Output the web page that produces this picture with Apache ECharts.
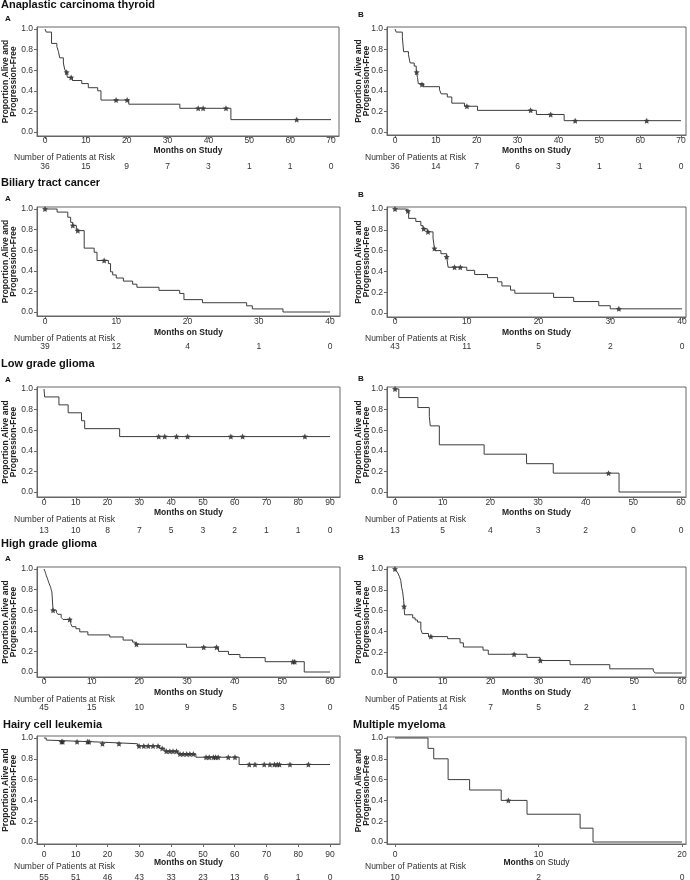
<!DOCTYPE html>
<html><head><meta charset="utf-8">
<script src="https://cdn.jsdelivr.net/npm/echarts@6/dist/echarts.min.js"></script>
<style>html,body{margin:0;padding:0;background:#fff}#c{width:690px;height:880px}</style>
</head><body><div id="c"></div>
<script>
// ---------------- DATA ----------------
const yTicks = [0, 0.2, 0.4, 0.6, 0.8, 1.0];
const xTicks70 = [0, 10, 20, 30, 40, 50, 60, 70];
const xTicks40 = [0, 10, 20, 30, 40];
const xTicks90 = [0, 10, 20, 30, 40, 50, 60, 70, 80, 90];
const xTicks60 = [0, 10, 20, 30, 40, 50, 60];
const xTicks20 = [0, 10, 20];

// Anaplastic carcinoma thyroid
const thyroidA_km = [[0,1],[0.3,0.97],[1.6,0.86],[2.9,0.83],[3.3,0.78],[3.6,0.72],[4.5,0.67],[4.8,0.61],[5.2,0.58],[5.5,0.53],[6.7,0.50],[9.0,0.47],[10.6,0.43],[12.9,0.40],[13.7,0.31],[20.5,0.27],[33.0,0.23],[45.5,0.12],[70,0.12]];
const thyroidA_censor = [[5.3,0.58],[6.4,0.53],[17.4,0.31],[20.1,0.31],[37.5,0.23],[38.7,0.23],[44.3,0.23],[61.6,0.12]];
const thyroidA_risk = [36, 15, 9, 7, 3, 1, 1, 0];
const thyroidB_km = [[0,1],[0.3,0.97],[1.8,0.92],[2.1,0.78],[3.3,0.75],[3.7,0.67],[4.7,0.64],[5.2,0.58],[5.5,0.53],[5.7,0.47],[7.0,0.44],[10.9,0.41],[11.3,0.37],[12.8,0.34],[13.9,0.28],[17.0,0.25],[20.2,0.21],[34.6,0.17],[41.4,0.11],[70,0.11]];
const thyroidB_censor = [[5.3,0.58],[6.6,0.46],[17.6,0.25],[33.2,0.21],[38.1,0.17],[44.1,0.11],[61.6,0.11]];
const thyroidB_risk = [36, 14, 7, 6, 3, 1, 1, 0];

// Biliary tract cancer
const biliaryA_km = [[0,1],[1.7,0.97],[3.2,0.92],[3.6,0.87],[3.9,0.84],[4.4,0.79],[5.5,0.62],[6.9,0.58],[7.3,0.50],[8.9,0.47],[9.2,0.39],[9.5,0.36],[10.0,0.33],[11.0,0.30],[12.3,0.27],[12.9,0.24],[16.0,0.21],[18.9,0.18],[19.5,0.12],[22.1,0.09],[28.3,0.06],[29.1,0.03],[33.4,0.0],[40,0.0]];
const biliaryA_censor = [[0,1],[3.9,0.84],[4.6,0.79],[8.3,0.50]];
const biliaryA_risk = [39, 12, 4, 1, 0];
const biliaryB_km = [[0,1],[1.6,0.98],[1.9,0.91],[2.9,0.88],[3.6,0.84],[3.9,0.81],[4.5,0.78],[5.3,0.72],[5.5,0.62],[5.6,0.60],[6.4,0.57],[7.2,0.54],[7.4,0.44],[10.0,0.41],[11.1,0.37],[12.9,0.34],[14.3,0.30],[14.9,0.26],[16.1,0.22],[16.7,0.19],[22.1,0.15],[24.9,0.11],[28.4,0.07],[30.0,0.04],[40,0.04]];
const biliaryB_censor = [[0,1],[1.8,0.98],[4.0,0.81],[4.6,0.78],[5.5,0.62],[7.2,0.54],[8.3,0.44],[9.1,0.44],[31.2,0.04]];
const biliaryB_risk = [43, 11, 5, 2, 0];

// Low grade glioma
const lowA_km = [[0,1],[0.2,0.923],[4.7,0.846],[7.6,0.769],[11.8,0.692],[12.8,0.615],[23.8,0.538],[90,0.538]];
const lowA_censor = [[36.1,0.538],[38.0,0.538],[41.7,0.538],[45.2,0.538],[58.8,0.538],[62.5,0.538],[82.1,0.538]];
const lowA_risk = [13, 10, 8, 7, 5, 3, 2, 1, 1, 0];
const lowB_km = [[0,1],[0.8,0.917],[4.8,0.82],[7.2,0.733],[7.4,0.642],[9.3,0.458],[18.7,0.367],[27.6,0.275],[33.2,0.183],[47,0],[60,0]];
const lowB_censor = [[0,1],[44.8,0.183]];
const lowB_risk = [13, 5, 4, 3, 2, 0, 0];

// High grade glioma
const highA_km = [[0,1],[0.2,0.978],[0.35,0.956],[0.5,0.933],[0.7,0.911],[0.85,0.889],[1.0,0.867],[1.2,0.844],[1.4,0.822],[1.5,0.80],[1.65,0.778],[1.9,0.60],[2.6,0.58],[2.9,0.56],[3.6,0.53],[4.0,0.51],[5.6,0.47],[5.9,0.44],[6.7,0.42],[7.5,0.39],[9.2,0.36],[13.8,0.34],[16.6,0.31],[18.6,0.29],[19.2,0.27],[29.9,0.24],[36.6,0.20],[38.7,0.17],[41.1,0.14],[46.4,0.10],[54.6,0],[60,0]];
const highA_censor = [[1.9,0.60],[5.4,0.51],[19.4,0.27],[33.5,0.24],[36.2,0.24],[52.2,0.10],[52.6,0.10]];
const highA_risk = [45, 15, 10, 9, 5, 3, 0];
const highB_km = [[0,1],[0.3,0.98],[0.6,0.96],[0.9,0.93],[1.2,0.89],[1.4,0.82],[1.6,0.78],[1.8,0.70],[1.9,0.64],[2.0,0.56],[3.7,0.53],[4.2,0.51],[4.7,0.49],[5.4,0.42],[5.7,0.38],[7.0,0.35],[11.0,0.33],[13.6,0.29],[14.3,0.25],[18.4,0.22],[19.5,0.18],[27.6,0.15],[30.3,0.12],[36.6,0.08],[44.9,0.04],[54.0,0.02],[54.4,0],[60,0]];
const highB_censor = [[0,1],[1.9,0.64],[7.5,0.35],[24.9,0.18],[30.4,0.12]];
const highB_risk = [45, 14, 7, 5, 2, 1, 0];

// Hairy cell leukemia
const hairy_km = [[0,1],[0.7,0.98],[1.3,0.964],[15.1,0.945],[29.4,0.923],[36.4,0.90],[38.0,0.872],[42.2,0.845],[47.8,0.815],[61.4,0.745],[90,0.745]];
const hairy_censor = [[5.5,0.964],[5.9,0.964],[10.4,0.964],[13.7,0.964],[14.2,0.964],[18.4,0.945],[23.6,0.945],[29.9,0.923],[31.4,0.923],[32.8,0.923],[34.3,0.923],[35.9,0.923],[37.2,0.90],[38.5,0.872],[39.6,0.872],[40.6,0.872],[41.7,0.872],[42.8,0.845],[43.8,0.845],[44.9,0.845],[45.9,0.845],[47.0,0.845],[51.0,0.815],[52.0,0.815],[53.3,0.815],[54.0,0.815],[54.8,0.815],[58.0,0.815],[60.1,0.815],[64.6,0.745],[66.4,0.745],[69.3,0.745],[71.1,0.745],[72.5,0.745],[73.4,0.745],[74.1,0.745],[77.4,0.745],[83.2,0.745]];
const hairy_risk = [55, 51, 46, 43, 33, 23, 13, 6, 1, 0];

// Multiple myeloma
const myeloma_km = [[0,1],[2.3,0.9],[2.7,0.8],[3.7,0.6],[5.2,0.5],[7.4,0.4],[9.2,0.267],[12.9,0.133],[13.8,0],[20,0]];
const myeloma_censor = [[7.9,0.4]];
const myeloma_risk = [10, 2, 0];

// ---------------- LAYOUT ----------------
const FONT = 'Liberation Sans, Arial, Helvetica, sans-serif';
const rows = [
  {lab:140.5, months:150.5, head:158, nums:166},
  {lab:321, months:332, head:338.7, nums:346.7},
  {lab:502.5, months:512, head:520.3, nums:530.3},
  {lab:681.7, months:692, head:700, nums:707.5},
  {lab:854.2, months:862.3, head:867.5, nums:877}
];
const panels = [
  {km:thyroidA_km, cens:thyroidA_censor, risk:thyroidA_risk, ticks:xTicks70, box:[37,27,339,136], x0:45, xE:331, y1:29, y0:132, row:0, col:0},
  {km:thyroidB_km, cens:thyroidB_censor, risk:thyroidB_risk, ticks:xTicks70, box:[387,27,686,135], x0:395, xE:681, y1:29, y0:132, row:0, col:1},
  {km:biliaryA_km, cens:biliaryA_censor, risk:biliaryA_risk, ticks:xTicks40, box:[37,207,340,316], x0:45, xE:330, y1:209, y0:312, row:1, col:0},
  {km:biliaryB_km, cens:biliaryB_censor, risk:biliaryB_risk, ticks:xTicks40, box:[387,207,686,317], x0:395, xE:682, y1:209, y0:313, row:1, col:1},
  {km:lowA_km, cens:lowA_censor, risk:lowA_risk, ticks:xTicks90, box:[37,387,340,497], x0:44, xE:330, y1:389, y0:492, row:2, col:0},
  {km:lowB_km, cens:lowB_censor, risk:lowB_risk, ticks:xTicks60, box:[387,387,686,497], x0:395, xE:681, y1:389, y0:492, row:2, col:1},
  {km:highA_km, cens:highA_censor, risk:highA_risk, ticks:xTicks60, box:[37,567,340,677], x0:44, xE:330, y1:569, y0:672, row:3, col:0},
  {km:highB_km, cens:highB_censor, risk:highB_risk, ticks:xTicks60, box:[387,567,686,677], x0:395, xE:682, y1:569, y0:673, row:3, col:1},
  {km:hairy_km, cens:hairy_censor, risk:hairy_risk, ticks:xTicks90, box:[37,736,340,844], x0:44, xE:330, y1:738, y0:842, row:4, col:0},
  {km:myeloma_km, cens:myeloma_censor, risk:myeloma_risk, ticks:xTicks20, box:[387,737,686,844], x0:395, xE:682, y1:738, y0:842, row:4, col:1, richName:true}
];
const texts = [
  {t:'Anaplastic carcinoma thyroid', x:1, y:5, s:11},
  {t:'A', x:5, y:19, s:8}, {t:'B', x:358, y:15, s:8},
  {t:'Biliary tract cancer', x:1, y:183, s:11},
  {t:'A', x:5, y:198.5, s:8}, {t:'B', x:358, y:195, s:8},
  {t:'Low grade glioma', x:1, y:364, s:11},
  {t:'A', x:5, y:380, s:8}, {t:'B', x:358, y:379, s:8},
  {t:'High grade glioma', x:1, y:544, s:11},
  {t:'A', x:5, y:559, s:8}, {t:'B', x:358, y:558, s:8},
  {t:'Hairy cell leukemia', x:3, y:725, s:11},
  {t:'Multiple myeloma', x:353, y:725, s:11}
];

const STAR = 'path://M0,-10 L2.9,-4 9.5,-3.1 4.7,1.5 5.9,8.1 0,5 -5.9,8.1 -4.7,1.5 -9.5,-3.1 -2.9,-4 Z';
const AX = '#666', TXT = '#333', LINE = '#3c3c3c';
const FS = 8.5;

const grid = [], xAxis = [], yAxis = [], series = [], graphic = [];
panels.forEach((p, i) => {
  const [L, T, R, B] = p.box;
  const xMaxTick = p.ticks[p.ticks.length - 1];
  const step = p.ticks[1] - p.ticks[0];
  const ppm = (p.xE - p.x0) / xMaxTick;
  const xmin = -(p.x0 - L) / ppm, xmax = xMaxTick + (R - p.xE) / ppm;
  const ppu = p.y0 - p.y1;
  const ymax = 1 + (p.y1 - T) / ppu, ymin = -(B - p.y0) / ppu;
  const r = rows[p.row];
  const h = FS / 2;
  grid.push({left:L, top:T, width:R - L, height:B - T, show:true, borderColor:AX, borderWidth:1, containLabel:false, outerBoundsMode:'none'});
  const nameCfg = p.richName
    ? {name:'{b|Months} on Study', nameTextStyle:{fontSize:FS, color:'#222', fontFamily:FONT, rich:{b:{fontWeight:'bold', fontSize:FS, color:'#222', fontFamily:FONT}}}}
    : {name:'Months on Study', nameTextStyle:{fontSize:FS, fontWeight:'bold', color:'#222', fontFamily:FONT}};
  xAxis.push(Object.assign({
    gridIndex:i, type:'value', min:xmin, max:xmax, position:'bottom',
    axisLine:{show:true, onZero:false, lineStyle:{color:AX, width:1}},
    axisTick:{show:true, length:3, customValues:p.ticks, lineStyle:{color:AX}},
    axisLabel:{customValues:p.ticks, fontSize:FS, color:TXT, fontFamily:FONT, margin:r.lab - B - h, formatter:v => String(v)},
    splitLine:{show:false},
    nameLocation:'middle', nameGap:r.months - B - h, nameMoveOverlap:false
  }, nameCfg));
  // risk table axis
  xAxis.push({
    gridIndex:i, type:'value', min:xmin, max:xmax, position:'bottom', offset:r.nums - B - h,
    axisLine:{show:false}, axisTick:{show:false}, splitLine:{show:false},
    axisLabel:{customValues:p.ticks, fontSize:FS, color:TXT, fontFamily:FONT, margin:0,
      formatter:(v) => String(p.risk[Math.round(v / step)])}
  });
  yAxis.push({
    gridIndex:i, type:'value', min:ymin, max:ymax,
    axisLine:{show:true, onZero:false, lineStyle:{color:AX, width:1}},
    axisTick:{show:true, length:3, customValues:yTicks, lineStyle:{color:AX}},
    axisLabel:{customValues:yTicks, fontSize:FS, color:TXT, fontFamily:FONT, margin:4, formatter:v => v.toFixed(1)},
    splitLine:{show:false},
    name:'Proportion Alive and\nProgression-Free', nameLocation:'middle', nameRotate:90,
    nameGap:p.col === 0 ? 20 : 17, nameMoveOverlap:false,
    nameTextStyle:{fontSize:FS, fontWeight:'bold', color:'#222', lineHeight:7.5, fontFamily:FONT}
  });
  series.push({
    type:'line', xAxisIndex:2 * i, yAxisIndex:i, step:'end', data:p.km, symbol:'none',
    lineStyle:{color:LINE, width:1}, clip:false, silent:true
  });
  series.push({
    type:'scatter', xAxisIndex:2 * i, yAxisIndex:i, data:p.cens, symbol:STAR, symbolSize:6,
    itemStyle:{color:'#222'}, silent:true
  });
  graphic.push({type:'text', left:(p.col === 0 ? 14 : 365), top:r.head - 5,
    style:{text:'Number of Patients at Risk', font:FS + 'px ' + FONT, fill:TXT}});
});
texts.forEach(t => {
  graphic.push({type:'text', x:t.x, y:t.y,
    style:{text:t.t, font:'bold ' + t.s + 'px ' + FONT, fill:'#111', textVerticalAlign:'middle', verticalAlign:'middle'}});
});

const chart = echarts.init(document.getElementById('c'), null, {renderer:'canvas'});
chart.setOption({
  animation:false,
  textStyle:{fontFamily:FONT},
  grid, xAxis, yAxis, series, graphic
});
</script>
</body></html>
